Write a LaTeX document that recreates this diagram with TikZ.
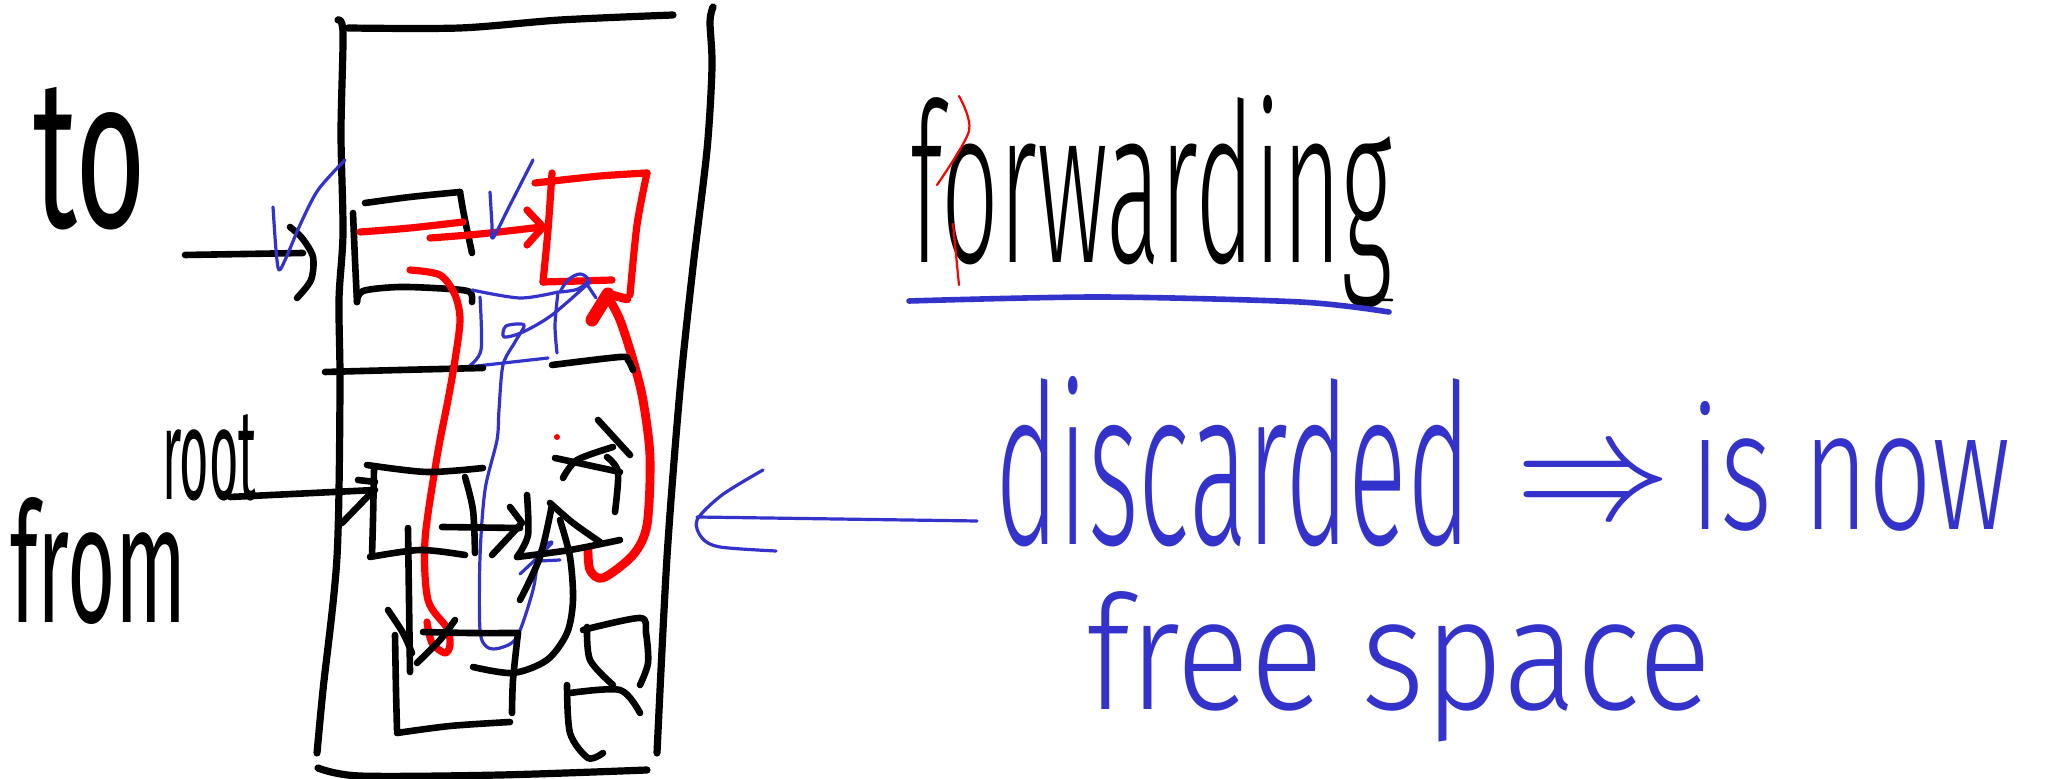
\documentclass[tikz,border=0pt]{standalone}
\usepackage{fontspec}
\usepackage{graphicx}
\newfontfamily\handthick{Fira Sans}
\newfontfamily\handthin{Fira Sans Light}
\definecolor{penred}{RGB}{255,0,0}
\definecolor{penblue}{RGB}{51,51,204}
\newcommand{\fitbox}[3]{\resizebox{#1}{#2}{#3}}
\begin{document}
\begin{tikzpicture}[x=0.5pt,y=-0.5pt,
  blk/.style={draw=black,line width=3.3pt,line cap=round,line join=round},
  frame/.style={draw=black,line width=3.6pt,line cap=round,line join=round},
  redpen/.style={draw=penred,line width=3.6pt,line cap=round,line join=round},
  redthick/.style={draw=penred,line width=4.4pt,line cap=round,line join=round},
  bluepen/.style={draw=penblue,line width=1.6pt,line cap=round,line join=round},
  blueline/.style={draw=penblue,line width=2.8pt,line cap=round},
  thinblk/.style={draw=black,line width=1.3pt,line cap=round},
  thinred/.style={draw=penred,line width=1.1pt,line cap=round},
  txt/.style={inner sep=0pt,outer sep=0pt}]
\useasboundingbox (0,0) rectangle (2050,779);
% ---------- memory frame ----------
\draw[frame] plot[smooth] coordinates {(338,20)(343,33)(341,133)(343,233)(339,300)(340,390)(337,557)(323,690)(317,753)};
\draw[frame] plot[smooth] coordinates {(348,28)(460,28)(560,20)(673,15)};
\draw[frame] plot[smooth] coordinates {(713,7)(710,22)(712,67)(707,150)(693,267)(680,390)(667,557)(657,753)};
\draw[frame] plot[smooth] coordinates {(318,768)(360,776)(500,775)(647,770)};
% ---------- labels ----------
\node[txt,anchor=base west] (to) at (33,228) {\handthick\fitbox{56.5pt}{70pt}{to}};
\node[txt,anchor=base west] (root) at (162,500) {\handthick\fitbox{47.5pt}{42.5pt}{root}};
\node[txt,anchor=base west] (from) at (10,623) {\handthick\fitbox{88.5pt}{62.5pt}{from}};
% ---------- "to" pointer ----------
\coordinate (toTail) at (185,255);
\coordinate (toTip) at (303,253);
\draw[blk] (toTail) -- (toTip);
\draw[blk] plot[smooth] coordinates {(290,227)(302,238)(313,257)(311,280)(297,298)};
\draw[bluepen] plot[smooth,tension=0.5] coordinates {(273,207)(276,250)(279,270)(286,258)(300,225)(318,190)(345,160)};
% ---------- "to" box ----------
\draw[blk] plot[smooth] coordinates {(365,203)(410,197)(460,192)};
\draw[blk] plot[smooth] coordinates {(460,192)(464,215)(472,253)};
\draw[blk] plot[smooth] coordinates {(353,213)(355,260)(357,302)};
\draw[blk] plot[smooth] coordinates {(357,302)(363,291)(400,287)(450,289)(470,292)(472,302)};
% ---------- red forwarding arrow and copied box ----------
\draw[redpen] plot[smooth] coordinates {(360,232)(410,228)(463,222)};
\draw[redpen] plot[smooth] coordinates {(430,238)(480,234)(542,227)};
\draw[redpen] (527,210) -- (543,227) -- (527,245);
\draw[bluepen] plot[smooth,tension=0.5] coordinates {(490,192)(492,225)(493,238)(510,205)(533,160)};
\draw[redpen] plot[smooth] coordinates {(535,183)(600,176)(647,173)};
\draw[redpen] plot[smooth] coordinates {(552,173)(548,230)(543,282)};
\draw[redpen] plot[smooth] coordinates {(543,282)(580,281)(612,280)};
\draw[redpen] plot[smooth] coordinates {(647,173)(637,225)(630,295)};
% big red arrow on the right
\draw[redthick] plot[smooth] coordinates {(608,297)(620,320)(633,360)(643,400)(650,457)(647,525)(633,555)(603,578)(590,570)(588,548)};
\draw[redthick,line width=6.5pt] (592,320) -- (608,294);
\draw[redthick] (608,294) -- (627,299);
% ---------- blue box / scribbles ----------
\draw[bluepen] plot[smooth] coordinates {(472,290)(520,298)(558,292)};
\draw[bluepen] plot[smooth] coordinates {(480,297)(481,350)(468,367)};
\draw[bluepen] (468,367) -- (548,358);
\draw[bluepen] plot[smooth] coordinates {(558,292)(555,325)(557,353)};
\draw[bluepen] plot[smooth,tension=0.6] coordinates {(560,292)(568,280)(580,274)(588,280)(578,289)(560,292)};
\draw[bluepen] (586,283) -- (596,298);
\draw[bluepen] plot[smooth,tension=0.5] coordinates {(590,282)(552,315)(523,332)(504,337)(506,326)(524,325)(515,342)(503,365)(499,410)(497,440)(485,490)(480,557)(480,630)(487,647)(500,648)(517,637)(533,590)(540,550)(552,542)};
\draw[bluepen] plot[smooth] coordinates {(520,574)(535,560)(552,543)};
\draw[bluepen] (540,561) -- (560,560);
% ---------- divider lines ----------
\draw[blk] plot[smooth] coordinates {(325,372)(400,370)(483,368)};
\draw[blk] plot[smooth] coordinates {(552,365)(620,357)(628,360)(633,370)};
% ---------- red S curve ----------
\draw[redpen] plot[smooth] coordinates {(410,270)(440,275)(455,295)(460,320)(455,360)(448,400)(437,457)(425,540)(428,600)(447,628)(450,645)(445,653)(432,643)(427,622)};
% ---------- root pointer and box ----------
\coordinate (rootTail) at (230,497);
\coordinate (rootTip) at (375,490);
\draw[blk] (rootTail) -- (rootTip);
\draw[blk] (342,523) -- (373,491);
\draw[blk] (358,480) -- (375,482);
\draw[blk] plot[smooth] coordinates {(367,465)(427,472)(483,468)};
\draw[blk] plot[smooth] coordinates {(374,470)(373,520)(372,555)};
\draw[blk] plot[smooth] coordinates {(370,557)(420,550)(465,555)};
\draw[blk] plot[smooth] coordinates {(465,477)(473,510)(475,553)};
% inner arrows
\draw[blk] (442,527) -- (520,528);
\draw[blk] (510,507) -- (522,523) -- (492,555);
\draw[blk] plot[smooth] coordinates {(527,495)(528,535)(517,557)};
\draw[blk] plot[smooth] coordinates {(517,557)(570,550)(620,540)};
\draw[blk] plot[smooth] coordinates {(550,503)(573,523)(600,542)};
\draw[blk] plot[smooth] coordinates {(520,600)(540,557)(552,505)};
\draw[blk] plot[smooth] coordinates {(560,520)(570,557)(573,600)(567,633)(547,660)(513,673)(473,667)};
% x marks
\draw[blk] (555,458) -- (620,472);
\draw[blk] plot[smooth] coordinates {(563,478)(577,460)(613,447)};
\draw[blk] (598,420) -- (630,455);
\draw[blk] plot[smooth] coordinates {(607,457)(618,472)(615,512)};
\fill[penred] (557,437) circle (3);
% ---------- bottom box ----------
\draw[blk] plot[smooth] coordinates {(423,632)(470,633)(518,633)};
\draw[blk] plot[smooth] coordinates {(395,635)(396,690)(397,730)};
\draw[blk] plot[smooth] coordinates {(397,733)(450,726)(510,722)};
\draw[blk] plot[smooth] coordinates {(518,633)(513,680)(512,713)};
\draw[blk] plot[smooth] coordinates {(408,528)(409,600)(410,672)};
\draw[blk] plot[smooth] coordinates {(388,610)(403,633)(412,653)};
\draw[blk] plot[smooth] coordinates {(417,663)(440,640)(455,620)};
% ---------- small right box ----------
\draw[blk] plot[smooth] coordinates {(583,630)(640,618)(646,633)(648,663)(640,685)};
\draw[blk] plot[smooth] coordinates {(587,627)(590,660)(613,685)};
\draw[blk] plot[smooth] coordinates {(567,685)(570,733)(588,758)(603,753)};
\draw[blk] plot[smooth] coordinates {(570,693)(620,690)(640,713)};
% ---------- "forwarding" ----------
\node[txt,anchor=base west] (fwd) at (910,263) {\handthin\fitbox{241pt}{83.5pt}{forwarding}};
\draw[thinred] plot[smooth] coordinates {(959,96)(969,131)(937,185)};
\draw[thinred] (953,224) -- (959,285);
\draw[blueline] plot[smooth] coordinates {(909,301)(1100,297)(1300,302)(1389,312)};
\draw[thinblk] (1355,299) -- (1392,300);
% ---------- discarded note ----------
\coordinate (noteTip) at (697,517);
\coordinate (noteTail) at (977,521);
\draw[bluepen] (noteTail) -- (noteTip);
\draw[bluepen] plot[smooth] coordinates {(763,470)(722,495)(697,520)(702,538)(720,547)(776,551)};
\node[txt,anchor=base west,text=penblue] (disc) at (995,545) {\handthin\fitbox{238pt}{84pt}{discarded}};
\node[txt,text=penblue] (impl) at (1593,490) {\fitbox{78pt}{!}{$\Rightarrow$}};
\node[txt,anchor=base west,text=penblue] (isnow) at (1690,530) {\handthin\fitbox{160pt}{64pt}{is now}};
\node[txt,anchor=base west,text=penblue] (free) at (1086,710) {\handthin\fitbox{312.5pt}{59pt}{free space}};
\end{tikzpicture}
\end{document}
